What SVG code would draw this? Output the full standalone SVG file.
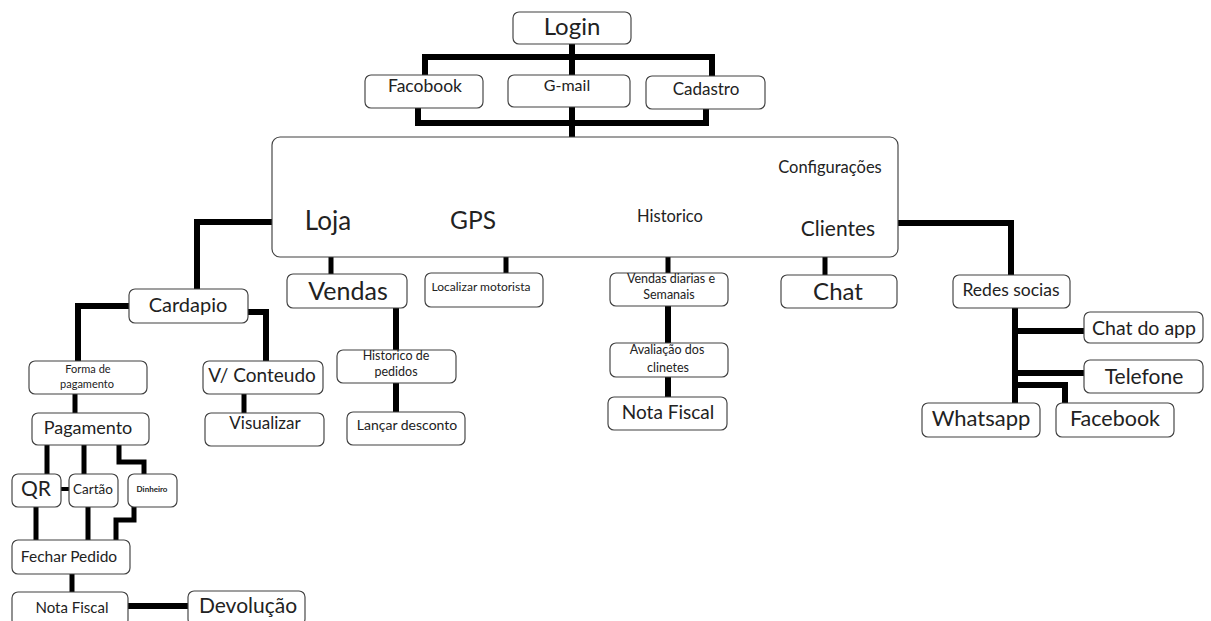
<svg xmlns="http://www.w3.org/2000/svg" width="1211" height="621" viewBox="0 0 1211 621">
  <style>
    .box { fill: #ffffff; stroke: #404040; stroke-width: 1.15; }
    .t { font-family: Lato, "Open Sans", sans-serif; fill: #222222; text-anchor: middle; }
    .c { fill: none; stroke: #000000; stroke-width: 6; stroke-linejoin: miter; stroke-linecap: butt; }
    .c5 { stroke-width: 5; }
    .c4 { stroke-width: 4; }
  </style>

  <rect width="1211" height="621" fill="#ffffff"/>

  <!-- connectors -->
  <g id="connectors">
    <path class="c" d="M425,76 V57 H712 V76 M572,44 V75"/>
    <path class="c" d="M418,108 V123 H706 V109 M572,107 V137"/>
    <path class="c" d="M272,222 H197 V289"/>
    <path class="c" d="M898,223 H1011 V275"/>
    <path class="c c5" d="M331,257 V274 M506,257 V273 M668,257 V273 M825,257 V275"/>
    <path class="c" d="M396,308 V350 M396,383 V412"/>
    <path class="c" d="M668,306 V343 M668,377 V397"/>
    <path class="c" d="M129,306 H78 V361 M248,312 H266 V361"/>
    <path class="c c5" d="M75,394 V413 M244,394 V413"/>
    <path class="c c5" d="M47,445 V474 M84,445 V474 M119,445 V462 H144 V474"/>
    <path class="c c4" d="M61,489 H69"/>
    <path class="c c5" d="M36,507 V540 M88,507 V540 M134,507 V520 H116 V540"/>
    <path class="c c5" d="M72,574 V592"/>
    <path class="c" d="M128,606 H188"/>
    <path class="c" d="M1015,308 V403 M1015,331 H1084 M1015,373 H1084 M1015,385 H1065 V403"/>
  </g>

  <!-- login level -->
  <g id="login">
    <rect class="box" x="513" y="12" width="118" height="32" rx="6"/>
    <text class="t" x="572" y="35" font-size="24">Login</text>
  </g>
  <g id="facobook">
    <rect class="box" x="365" y="75" width="118" height="33" rx="6"/>
    <text class="t" x="425" y="92" font-size="17.5">Facobook</text>
  </g>
  <g id="gmail">
    <rect class="box" x="508" y="75" width="122" height="32" rx="6"/>
    <text class="t" x="567" y="91" font-size="16">G-mail</text>
  </g>
  <g id="cadastro">
    <rect class="box" x="646" y="76" width="119" height="33" rx="6"/>
    <text class="t" x="706" y="95" font-size="17">Cadastro</text>
  </g>

  <!-- main menu -->
  <g id="menu">
    <rect class="box" x="272" y="137" width="626" height="120" rx="8"/>
    <text class="t" x="328" y="230" font-size="26">Loja</text>
    <text class="t" x="473" y="229" font-size="24.5">GPS</text>
    <text class="t" x="670" y="222" font-size="16.5">Historico</text>
    <text class="t" x="838" y="236" font-size="21">Clientes</text>
    <text class="t" x="830" y="173" font-size="16.5">Configurações</text>
  </g>

  <!-- second level -->
  <g id="vendas">
    <rect class="box" x="287" y="274" width="120" height="34" rx="6"/>
    <text class="t" x="348" y="300" font-size="25">Vendas</text>
  </g>
  <g id="localizar">
    <rect class="box" x="425" y="273" width="118" height="34" rx="6"/>
    <text class="t" x="481" y="291" font-size="12">Localizar motorista</text>
  </g>
  <g id="vendas-diarias">
    <rect class="box" x="610" y="273" width="118" height="33" rx="6"/>
    <text class="t" x="671" y="283" font-size="12.5">Vendas diarias e</text>
    <text class="t" x="669" y="299" font-size="12.5">Semanais</text>
  </g>
  <g id="chat">
    <rect class="box" x="781" y="275" width="116" height="33" rx="6"/>
    <text class="t" x="838" y="300" font-size="24">Chat</text>
  </g>
  <g id="redes-socias">
    <rect class="box" x="953" y="275" width="117" height="33" rx="6"/>
    <text class="t" x="1011" y="296" font-size="17.5">Redes socias</text>
  </g>
  <g id="cardapio">
    <rect class="box" x="129" y="289" width="119" height="34" rx="6"/>
    <text class="t" x="188" y="312" font-size="20">Cardapio</text>
  </g>

  <!-- Vendas branch -->
  <g id="historico-pedidos">
    <rect class="box" x="337" y="350" width="119" height="33" rx="6"/>
    <text class="t" x="396" y="360" font-size="12.5">Historico de</text>
    <text class="t" x="396" y="376" font-size="12.5">pedidos</text>
  </g>
  <g id="lancar-desconto">
    <rect class="box" x="347" y="412" width="118" height="33" rx="6"/>
    <text class="t" x="407" y="430" font-size="14">Lançar desconto</text>
  </g>

  <!-- Historico branch -->
  <g id="avaliacao">
    <rect class="box" x="610" y="343" width="118" height="34" rx="6"/>
    <text class="t" x="667" y="354" font-size="12.5">Avaliação dos</text>
    <text class="t" x="668" y="372" font-size="12.5">clinetes</text>
  </g>
  <g id="nota-fiscal-historico">
    <rect class="box" x="608" y="397" width="119" height="33" rx="6"/>
    <text class="t" x="668" y="419" font-size="19">Nota Fiscal</text>
  </g>

  <!-- Redes socias branch -->
  <g id="chat-app">
    <rect class="box" x="1084" y="312" width="119" height="31" rx="6"/>
    <text class="t" x="1144" y="335" font-size="19.5">Chat do app</text>
  </g>
  <g id="telefone">
    <rect class="box" x="1084" y="360" width="119" height="33" rx="6"/>
    <text class="t" x="1144" y="384" font-size="21">Telefone</text>
  </g>
  <g id="whatsapp">
    <rect class="box" x="922" y="403" width="118" height="34" rx="6"/>
    <text class="t" x="981" y="426" font-size="22">Whatsapp</text>
  </g>
  <g id="facebook">
    <rect class="box" x="1056" y="403" width="118" height="34" rx="6"/>
    <text class="t" x="1115" y="426" font-size="21.5">Facebook</text>
  </g>

  <!-- Cardapio branch -->
  <g id="forma-pagamento">
    <rect class="box" x="29" y="361" width="118" height="33" rx="6"/>
    <text class="t" x="88" y="373" font-size="11">Forma de</text>
    <text class="t" x="87" y="388" font-size="11">pagamento</text>
  </g>
  <g id="v-conteudo">
    <rect class="box" x="203" y="361" width="120" height="33" rx="6"/>
    <text class="t" x="262" y="382" font-size="19">V/ Conteudo</text>
  </g>
  <g id="pagamento">
    <rect class="box" x="32" y="413" width="117" height="32" rx="6"/>
    <text class="t" x="88" y="434" font-size="18">Pagamento</text>
  </g>
  <g id="visualizar">
    <rect class="box" x="205" y="413" width="119" height="33" rx="6"/>
    <text class="t" x="265" y="429" font-size="17">Visualizar</text>
  </g>
  <g id="qr">
    <rect class="box" x="12" y="474" width="49" height="33" rx="6"/>
    <text class="t" x="36" y="496" font-size="21">QR</text>
  </g>
  <g id="cartao">
    <rect class="box" x="69" y="474" width="49" height="33" rx="6"/>
    <text class="t" x="93" y="494" font-size="13.5">Cartão</text>
  </g>
  <g id="dinheiro">
    <rect class="box" x="128" y="474" width="49" height="33" rx="6"/>
    <text class="t" x="152" y="492" font-size="8" font-weight="bold">Dinheiro</text>
  </g>
  <g id="fechar-pedido">
    <rect class="box" x="12" y="540" width="118" height="34" rx="6"/>
    <text class="t" x="69" y="562" font-size="15.5">Fechar Pedido</text>
  </g>
  <g id="nota-fiscal">
    <rect class="box" x="12" y="592" width="116" height="34" rx="6"/>
    <text class="t" x="72" y="613" font-size="15">Nota Fiscal</text>
  </g>
  <g id="devolucao">
    <rect class="box" x="188" y="591" width="117" height="34" rx="6"/>
    <text class="t" x="248" y="613" font-size="21">Devolução</text>
  </g>
</svg>
